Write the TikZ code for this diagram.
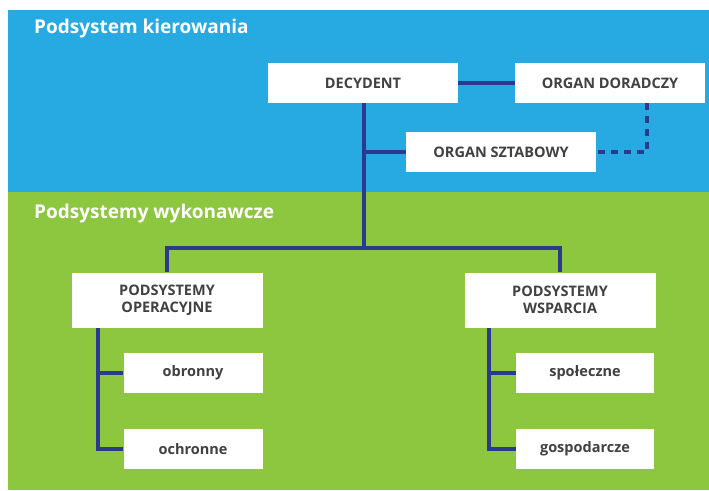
\documentclass[tikz,border=0pt]{standalone}
\usepackage{fontspec}
\setmainfont{Open Sans}
\definecolor{bandblue}{HTML}{27AAE1}
\definecolor{bandgreen}{HTML}{8DC63F}
\definecolor{linenavy}{HTML}{2B3A8F}
\definecolor{txtgray}{HTML}{414042}
\tikzset{
  box/.style={fill=white, text=txtgray, font=\bfseries\fontsize{14.5}{17}\selectfont, align=center, inner sep=0pt},
  conn/.style={draw=linenavy, line width=3.4pt},
  dconn/.style={draw=linenavy, line width=3.4pt, dash pattern=on 7pt off 6pt},
  band/.style={text=white, font=\bfseries\fontsize{19}{22}\selectfont, anchor=west, inner sep=0pt}
}
\begin{document}
\begin{tikzpicture}[x=1pt,y=-1pt]
\useasboundingbox (0,0) rectangle (709,490);
\fill[white] (0,0) rectangle (709,490);
\fill[bandblue] (8,10) rectangle (709,192);
\fill[bandgreen] (8,192) rectangle (709,490);
\node[band] (t1) at (34,29) {Podsystem kierowania};
\node[band] (t2) at (34,214) {Podsystemy wykonawcze};
% boxes
\node[box, minimum width=190pt, minimum height=40pt] (dec) at (363,83) {DECYDENT};
\node[box, minimum width=190pt, minimum height=40pt] (dor) at (610,83) {ORGAN DORADCZY};
\node[box, minimum width=190pt, minimum height=40pt] (szt) at (501,152) {ORGAN SZTABOWY};
\node[box, minimum width=191pt, minimum height=55pt] (ope) at (167,300) {PODSYSTEMY\\OPERACYJNE};
\node[box, minimum width=191pt, minimum height=55pt] (wsp) at (560,300) {PODSYSTEMY\\WSPARCIA};
\node[box, minimum width=139pt, minimum height=40pt] (obr) at (193,373) {obronny};
\node[box, minimum width=139pt, minimum height=40pt] (och) at (193,449) {ochronne};
\node[box, minimum width=138pt, minimum height=40pt] (spo) at (585,373) {społeczne};
\node[box, minimum width=138pt, minimum height=40pt] (gos) at (585,449) {gospodarcze};
% connectors
\coordinate (hub) at (364,248);
\draw[conn] (dec.east) -- (dor.west);
\draw[conn] (dec.south -| hub) -- (hub);
\draw[conn] (szt.west) -- (szt.west -| hub);
\draw[conn] (ope.north) |- (hub) -| (wsp.north);
\draw[dconn] (dor.south -| 647,0) -- (647,152) -- (szt.east);
\draw[conn] (ope.south -| 98,0) |- (och.west);
\draw[conn] (obr.west) -- (obr.west -| 98,0);
\draw[conn] (wsp.south -| 489,0) |- (gos.west);
\draw[conn] (spo.west) -- (spo.west -| 489,0);
\end{tikzpicture}
\end{document}
